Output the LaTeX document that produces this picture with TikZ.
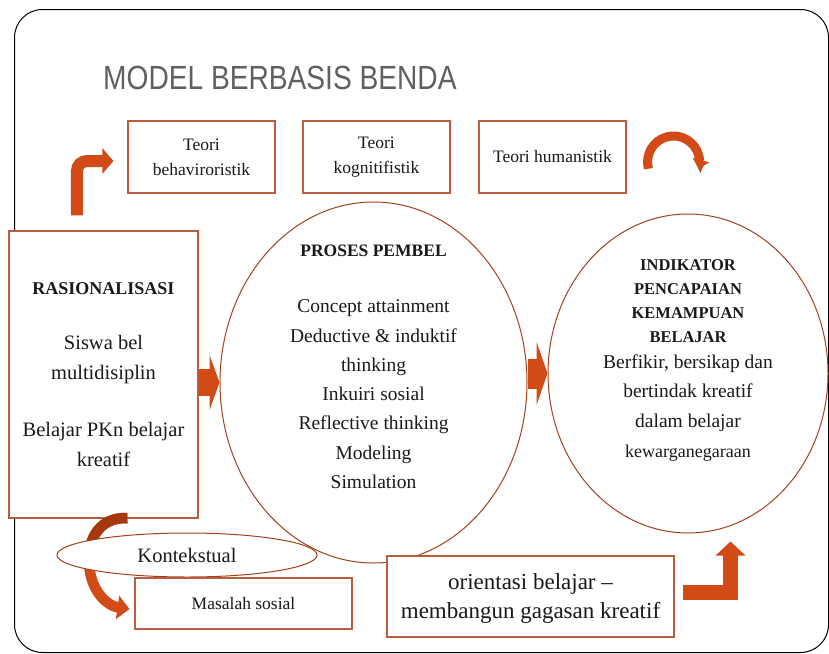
\documentclass[tikz,border=0pt]{standalone}
\usepackage{fontspec}
\setmainfont{Liberation Serif}
\newfontfamily\titlefont[FakeStretch=0.84]{Liberation Sans}
\usepackage{tikz}
\usetikzlibrary{arrows.meta,shapes.geometric,calc}
\definecolor{arrowfill}{RGB}{210,75,23}
\definecolor{arrowdark}{RGB}{166,56,16}
\definecolor{boxline}{RGB}{186,92,62}
\definecolor{ringline}{RGB}{168,64,28}
\definecolor{titlegray}{RGB}{96,96,96}
\newcommand{\hd}[1]{{\bfseries\fontsize{16.5}{24}\selectfont #1}}

\begin{document}
\begin{tikzpicture}[
  x=1pt, y=-1pt,
  box/.style={draw=boxline, fill=white, line width=1.1pt, align=center, inner sep=0pt, text=black!90},
  ring/.style={ellipse, draw=ringline, line width=1pt, inner sep=0pt},
  txt/.style={align=center, inner sep=0pt, text=black!90},
  blockarr/.style n args={3}{draw=arrowfill, line width=#1, -{Triangle[width=#2, length=#3]}},
]
\useasboundingbox (0,0) rectangle (829,653);
% ---- frame + title ----
\draw[line width=1pt, rounded corners=28pt] (14.5,9.5) rectangle (828.5,652.5);
\node[anchor=base west, inner sep=0pt, text=titlegray, font=\titlefont\fontsize{33.5}{40}\selectfont] (title) at (103,89) {MODEL BERBASIS BENDA};

% ---- teori boxes ----
\node[box, minimum width=147pt, minimum height=72pt, font=\fontsize{17.5}{25}\selectfont] (behav) at (201.5,157) {Teori\\behaviroristik};
\node[box, minimum width=147pt, minimum height=72pt, font=\fontsize{17.5}{25}\selectfont] (kogn)  at (376.5,157) {Teori\\kognitifistik};
\node[box, minimum width=147pt, minimum height=72pt, font=\fontsize{17.5}{25}\selectfont] (human) at (552.5,157) {Teori humanistik};

% ---- big rings ----
\node[ring, minimum width=307pt, minimum height=361pt] (proses) at (373.5,382.5) {};
\node[ring, minimum width=280pt, minimum height=319pt] (indik)  at (688,373.5) {};
\node[txt, anchor=north, font=\fontsize{19.5}{29.3}\selectfont] (prosestxt) at (373.5,245)
  {{\bfseries\fontsize{17.5}{29.3}\selectfont PROSES PEMBEL}\\[26.7pt]Concept attainment\\Deductive \& induktif\\thinking\\Inkuiri sosial\\Reflective thinking\\Modeling\\Simulation};
\node[txt, anchor=north, font=\fontsize{19.5}{24}\selectfont] (indiktxt) at (688,259)
  {\hd{INDIKATOR}\\\hd{PENCAPAIAN}\\\hd{KEMAMPUAN}\\\hd{BELAJAR}\\[2pt]Berfikir, bersikap dan\\[5.7pt]bertindak kreatif\\[5.7pt]dalam belajar\\[5.7pt]{\fontsize{18}{24}\selectfont kewarganegaraan}};

% ---- rasionalisasi ----
\node[box, minimum width=189pt, minimum height=287pt, font=\fontsize{20.5}{30}\selectfont] (rasio) at (103.5,374.5)
  {{\bfseries\fontsize{18}{30}\selectfont RASIONALISASI}\\[25pt]Siswa bel\\multidisiplin\\[27pt]Belajar PKn belajar\\kreatif};

% ---- flows ----
\draw[blockarr={12pt}{25pt}{11pt}, rounded corners=10pt] ($(rasio.north west)+(68.5,-15)$) |- ($(behav.west)+(-14,4)$);
\draw[blockarr={9pt}{17pt}{9pt}] ($(human.east)+(21.9,11.7)$) arc[start angle=165, end angle=375, radius=26];
\draw[blockarr={27pt}{55pt}{10pt}] (rasio.east |- proses.west) -- (proses.west);
\draw[blockarr={30pt}{63pt}{11pt}] (proses.east |- indik.west) -- (indik.west);

% ---- kontekstual ----
\draw[blockarr={10.5pt}{23pt}{12pt}] ($(rasio.south west)+(119,-0.5)$) .. controls (100,517) and (88,538) .. (89,562)
  .. controls (90,592) and (108,606) .. ($(rasio.south west)+(121,90.5)$);
\begin{scope}
  \clip (60,505) rectangle (140,540);
  \draw[draw=arrowdark, line width=10.5pt] ($(rasio.south west)+(119,-0.5)$) .. controls (100,517) and (88,538) .. (89,562);
\end{scope}
\node[ring, fill=white, minimum width=260pt, minimum height=44pt, font=\fontsize{20.5}{24}\selectfont, text=black!90] (kontek) at (187,555) {Kontekstual};
\node[box, minimum width=217pt, minimum height=51pt, font=\fontsize{17.5}{22}\selectfont] (masalah) at (243.5,603.5) {Masalah sosial};

% ---- orientasi ----
\node[box, minimum width=287pt, minimum height=81pt, text depth=0pt, font=\fontsize{23}{29}\selectfont] (orient) at (530.5,596.5) {orientasi belajar –\\membangun gagasan kreatif};
\draw[blockarr={15pt}{29pt}{14pt}] ($(orient.east)+(8,-4)$) -| ($(indik.south)+(42.5,8)$);
\end{tikzpicture}
\end{document}
